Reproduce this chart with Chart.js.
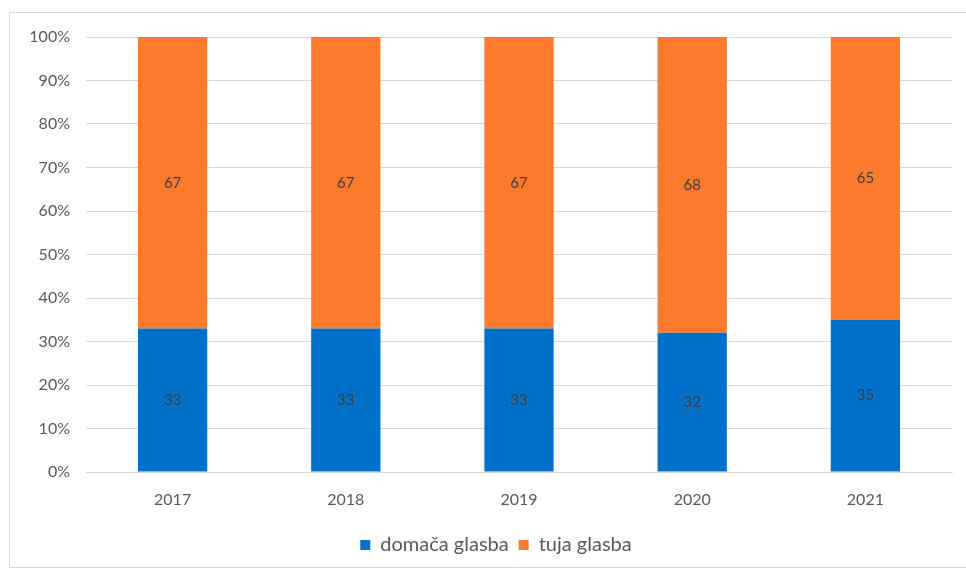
<!DOCTYPE html>
<html>
<head>
<meta charset="utf-8">
<script src="https://cdn.jsdelivr.net/npm/chart.js@4/dist/chart.umd.min.js"></script>
<style>
    html, body { margin: 0; padding: 0; background: #fff; }
    #wrap { position: relative; width: 966px; height: 572px; }
    #frame { position: absolute; left: 9px; top: 12px; width: 962px; height: 556px; border: 1px solid #d9d9d9; box-sizing: border-box; }
    canvas { position: absolute; left: 0; top: 0; }
</style>
</head>
<body>
<div id="wrap">
    <div id="frame"></div>
    <canvas id="musicChart" width="966" height="572"></canvas>
</div>
<script>
// Chart data
const years = ['2017', '2018', '2019', '2020', '2021'];
const domacaGlasba = [33, 33, 33, 32, 35];
const tujaGlasba = [67, 67, 67, 68, 65];
const yTicks = [0, 10, 20, 30, 40, 50, 60, 70, 80, 90, 100];

// Draw values in the middle of each bar segment
const barLabels = {
    id: 'barLabels',
    afterDatasetsDraw(chart) {
        const ctx = chart.ctx;
        ctx.save();
        ctx.font = '15px Lato';
        ctx.fillStyle = '#404040';
        ctx.textAlign = 'center';
        ctx.textBaseline = 'middle';
        chart.data.datasets.forEach((ds, i) => {
            chart.getDatasetMeta(i).data.forEach((bar, j) => {
                const mid = (bar.y + bar.base) / 2;
                ctx.fillText(ds.data[j], bar.x, mid);
            });
        });
        ctx.restore();
    }
};

// Nudge the legend so it sits centred like the original
const legendShift = {
    id: 'legendShift',
    afterLayout(chart) {
        if (chart.legend) {
            chart.legend.left += 20;
            chart.legend.right += 20;
        }
    }
};

new Chart(document.getElementById('musicChart'), {
    type: 'bar',
    data: {
        labels: years,
        datasets: [
            {
                label: 'domača glasba',
                data: domacaGlasba,
                backgroundColor: '#0070c8',
                categoryPercentage: 1,
                barPercentage: 0.4
            },
            {
                label: 'tuja glasba',
                data: tujaGlasba,
                backgroundColor: '#fb7a2c',
                categoryPercentage: 1,
                barPercentage: 0.4
            }
        ]
    },
    options: {
        responsive: false,
        animation: false,
        layout: {
            padding: { top: 37, right: 14, bottom: 7, left: 0 }
        },
        plugins: {
            legend: {
                position: 'bottom',
                labels: {
                    boxWidth: 10,
                    boxHeight: 10,
                    padding: 10,
                    color: '#595959',
                    font: { family: 'Lato', size: 20 }
                }
            },
            tooltip: { enabled: false }
        },
        scales: {
            x: {
                stacked: true,
                grid: { display: false, drawTicks: false },
                border: { color: '#d9d9d9' },
                ticks: {
                    padding: 18,
                    color: '#595959',
                    font: { family: 'Lato', size: 16 }
                },
                afterFit(scale) { scale.height = 53; }
            },
            y: {
                stacked: true,
                min: 0,
                max: 100,
                grid: { color: '#d9d9d9', drawTicks: false },
                border: { display: false },
                afterBuildTicks(scale) {
                    scale.ticks = yTicks.map(v => ({ value: v }));
                },
                ticks: {
                    padding: 16,
                    color: '#595959',
                    font: { family: 'Lato', size: 16 },
                    callback: v => v + '%'
                },
                afterFit(scale) { scale.width = 86; }
            }
        }
    },
    plugins: [barLabels, legendShift]
});
</script>
</body>
</html>
